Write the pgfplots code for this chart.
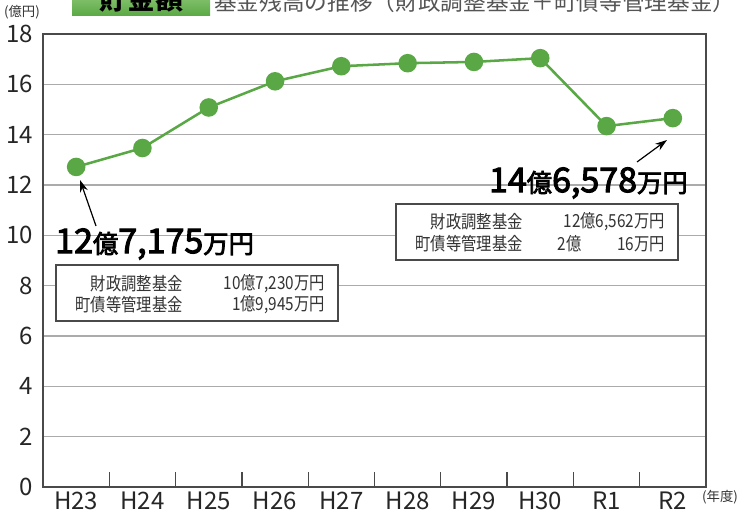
\documentclass[border=0pt]{standalone}
\usepackage{fontspec}
\setmainfont{Noto Sans CJK JP}
\newfontfamily\semib[FakeBold=3]{Noto Sans CJK JP}
\newfontfamily\condf[FakeStretch=0.85]{Noto Sans CJK JP}
\usepackage{pgfplots}
\pgfplotsset{compat=1.18}
\usetikzlibrary{arrows.meta}
\definecolor{lgreen}{HTML}{5AA845}
\definecolor{gridgray}{HTML}{ABABAB}
\definecolor{framec}{HTML}{4A4A4A}
\definecolor{txtgray}{HTML}{333333}
\definecolor{titlegray}{HTML}{555555}
\definecolor{boxtop}{HTML}{A8D890}
\definecolor{boxbot}{HTML}{5AA845}
\begin{document}
\begin{tikzpicture}
\begin{axis}[
  at={(0,0)}, anchor=south west, scale only axis,
  width=497.25pt, height=339.75pt,
  xmin=-0.5, xmax=9.5, ymin=0, ymax=18,
  xtick={0,...,9},
  xticklabels={H23,H24,H25,H26,H27,H28,H29,H30,R1,R2},
  ytick={0,2,...,18},
  xtick pos=bottom, ytick pos=left,
  major tick length=0pt,
  extra x ticks={0.5,1.5,...,8.5},
  extra x tick labels={},
  extra x tick style={major tick length=11pt, tick align=inside, tick style={framec, line width=1pt}},
  ymajorgrids, grid style={gridgray, line width=1pt},
  axis line style={framec, line width=1.2pt},
  tick label style={font=\fontsize{18}{20}\selectfont, text=black!85},
  /pgf/number format/assume math mode=true,
  yticklabel style={xshift=-4pt},
  clip=false,
]
\addplot[lgreen, line width=1.9pt, mark=*, mark size=6pt, mark options={fill=lgreen, draw=lgreen}]
  coordinates {(0,12.7175) (1,13.47) (2,15.08) (3,16.12) (4,16.72) (5,16.84) (6,16.89) (7,17.04) (8,14.34) (9,14.6578)};
\end{axis}
\begin{scope}[shift={(-32.25pt,365.25pt)}, x=0.75pt, y=-0.75pt]
  % title (cut at the top of the page, as in the reference)
  \shade[top color=boxtop, bottom color=boxbot] (72,-20) rectangle (210,16);
  \node[font=\fontsize{21}{22}\selectfont\bfseries, text=black] at (141,-1) {貯金額};
  \node[font=\fontsize{17}{18}\selectfont, text=titlegray, anchor=west, inner sep=0pt] at (214,2) {基金残高の推移（財政調整基金＋町債等管理基金）};
  % unit labels
  \node[font=\fontsize{10}{11}\selectfont, text=txtgray] at (22,12) {(億円)};
  \node[font=\fontsize{10}{11}\selectfont, text=txtgray] at (720,497) {(年度)};
  % left annotation
  \draw[-{Stealth[length=9pt,width=6pt]}, line width=0.9pt, black] (96,226) -- (80,180);
  \node[font=\fontsize{25.5}{27}\selectfont\semib, anchor=west, inner sep=0pt] at (55,244)
    {12{\fontsize{19}{20}\selectfont 億}7,175{\fontsize{19}{20}\selectfont 万円}};
  \draw[framec, line width=0.9pt, fill=white] (56,265) rectangle (338,321);
  \begin{scope}[every node/.style={font=\fontsize{13.5}{14}\selectfont\condf, text=txtgray, anchor=east, inner sep=0pt}]
    \node at (183,284) {財政調整基金};
    \node at (325,284) {10億7,230万円};
    \node at (183,305) {町債等管理基金};
    \node at (325,305) {1億9,945万円};
  \end{scope}
  % right annotation
  \draw[-{Stealth[length=9pt,width=6pt]}, line width=0.9pt, black] (637,162) -- (667,140);
  \node[font=\fontsize{25.5}{27}\selectfont\semib, anchor=east, inner sep=0pt] at (688,183)
    {14{\fontsize{19}{20}\selectfont 億}6,578{\fontsize{19}{20}\selectfont 万円}};
  \draw[framec, line width=0.9pt, fill=white] (396,204) rectangle (678,260);
  \begin{scope}[every node/.style={font=\fontsize{13.5}{14}\selectfont\condf, text=txtgray, anchor=east, inner sep=0pt}]
    \node at (523,222) {財政調整基金};
    \node at (665,222) {12億6,562万円};
    \node at (523,244) {町債等管理基金};
    \node at (582,244) {2億};
    \node at (665,244) {16万円};
  \end{scope}
  \pgfresetboundingbox
  \path[use as bounding box] (0,0) rectangle (744,515);
\end{scope}
\end{tikzpicture}
\end{document}
